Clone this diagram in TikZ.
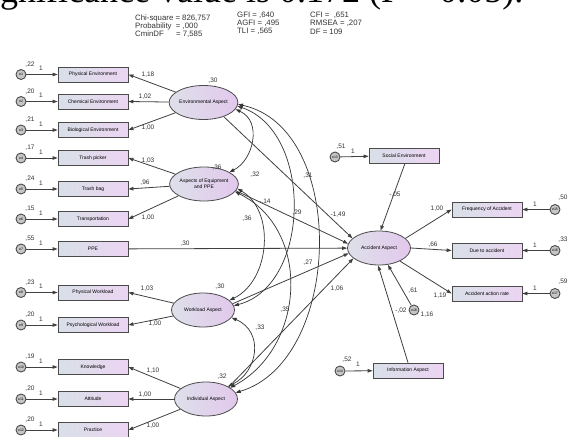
\documentclass[tikz,border=0pt]{standalone}
\usepackage{fontspec}
\setmainfont{Liberation Sans}
\newfontfamily\serifx{Liberation Serif}
\usetikzlibrary{arrows.meta,shapes.geometric}
\definecolor{boxL}{RGB}{216,224,232}
\definecolor{boxR}{RGB}{236,212,242}
\definecolor{latL}{RGB}{222,224,234}
\definecolor{latR}{RGB}{226,200,236}
\definecolor{edge}{RGB}{75,75,75}
\begin{document}
\begin{tikzpicture}[x=1pt,y=-1pt,
  obs/.style={draw=edge, line width=0.8pt, left color=boxL, right color=boxR,
    minimum width=70pt, minimum height=15pt, inner sep=0pt, font=\fontsize{5}{6}\selectfont},
  lat/.style={ellipse, draw=edge, line width=0.8pt, left color=latL, right color=latR,
    minimum width=63pt, minimum height=34pt, inner sep=0pt, align=center,
    font=\fontsize{5}{6}\selectfont},
  err/.style={circle, draw=edge, line width=0.9pt, fill=gray!45, minimum size=10pt,
    inner sep=0pt, font=\fontsize{3.5}{4}\selectfont},
  lbl/.style={font=\fontsize{6.5}{7}\selectfont, inner sep=0pt, text=black!80},
  stat/.style={font=\fontsize{7.8}{8}\selectfont, inner sep=0pt, anchor=west, text=black!80},
  reg/.style={draw=black!75, line width=0.8pt, -{Triangle[length=5pt,width=3.5pt]}},
  cov/.style={draw=black!80, line width=0.7pt,
    {Triangle[length=5pt,width=3.5pt]}-{Triangle[length=5pt,width=3.5pt]}}]
\useasboundingbox (0,0) rectangle (569,436);
\clip (0,0) rectangle (569,436);
\fill[white] (0,0) rectangle (569,436);

% cut-off heading text
\node[anchor=base west, font=\serifx\fontsize{36}{36}\selectfont, inner sep=0pt]
  (head) at (-24,3) {significance value is 0.172 (P > 0.05).};

% fit statistics
\node[stat] (s1) at (135,18) {Chi-square = 826,757};
\node[stat] (s2) at (135,26) {Probability \ = ,000};
\node[stat] (s3) at (135,34) {CminDF \hspace{8pt} = 7,585};
\node[stat] (s4) at (237,15.5) {GFI = ,640};
\node[stat] (s5) at (237,23.5) {AGFI = ,495};
\node[stat] (s6) at (237,31.5) {TLI = ,565};
\node[stat] (s7) at (310,15.5) {CFI = \ ,651};
\node[stat] (s8) at (310,23.5) {RMSEA = ,207};
\node[stat] (s9) at (310,31.5) {DF = 109};

% left indicators with their error terms
\foreach \nm/\yy/\txt/\var/\en in {
  pe/74.5/Physical Environment/{,22}/e1,
  ce/101.5/Chemical Environment/{,20}/e2,
  be/130/Biological Environment/{,21}/e3,
  tp/158/Trash picker/{,17}/e4,
  tb/189/Trash bag/{,24}/e5,
  tr/219/Transportation/{,15}/e6,
  ppe/249/PPE/{,55}/e7,
  pw/292.5/Physical Workload/{,23}/e8,
  psw/325/Psychological Workload/{,20}/e9,
  kn/367/Knowledge/{,19}/e10,
  at/399/Attitude/{,20}/e11,
  pr/430/Practice/{,20}/e12}{
  \node[obs] (\nm) at (93,\yy) {\txt};
  \node[err] (\en) at (21,\yy) {\en};
  \draw[reg] (\en) -- (\nm);
  \node[lbl] (v\en) at (30,\yy-10) {\var};
  \node[lbl] (k\en) at (41,\yy-6) {1};
}

% latent variables
\node[lat] (env) at (203.5,102.5) {Environmental Aspect};
\node[lat] (equ) at (204,184) {Aspects of Equipment\\and PPE};
\node[lat] (wl)  at (203,310) {Workload Aspect};
\node[lat] (ind) at (206,399) {Individual Aspect};
\node[lat] (acc) at (379,248) {Accident Aspect};

\node[lbl] (venv) at (213,81) {,30};
\node[lbl] (vequ) at (217,168) {,36};
\node[lbl] (vwl)  at (220,287) {,30};
\node[lbl] (vind) at (222,377) {,32};

% loadings
\draw[reg] (env) -- (pe.east);
\draw[reg] (env) -- (ce.east);
\draw[reg] (env) -- (be.east);
\draw[reg] (equ) -- (tp.east);
\draw[reg] (equ) -- (tb.east);
\draw[reg] (equ) -- (tr.east);
\draw[reg] (wl) -- (pw.east);
\draw[reg] (wl) -- (psw.east);
\draw[reg] (ind) -- (kn.east);
\draw[reg] (ind) -- (at.east);
\draw[reg] (ind) -- (pr.east);

\node[lbl] at (148,75) {1,18};
\node[lbl] at (145,97) {1,02};
\node[lbl] at (148,128) {1,00};
\node[lbl] at (148,161) {1,03};
\node[lbl] at (145,183) {,96};
\node[lbl] at (148,218) {1,00};
\node[lbl] at (147,289) {1,03};
\node[lbl] at (155,324) {1,00};
\node[lbl] at (153,371) {1,10};
\node[lbl] at (145,395) {1,00};
\node[lbl] at (153,426) {1,00};

% covariances
\draw[cov] (env.-12) .. controls +(27,12) and +(24,-12) .. (equ.25);
\draw[cov] (env.-6) .. controls +(76,26) and +(77,-20) .. (wl.8);
\draw[cov] (env.-3) .. controls +(110,24) and +(107,-32) .. (ind.12);
\draw[cov] (equ.-8) .. controls +(38,22) and +(41,-20) .. (wl.20);
\draw[cov] (equ.-14) .. controls +(77,38) and +(75,-40) .. (ind.25);
\draw[cov] (wl.-15) .. controls +(33,14) and +(30,-14) .. (ind.30);

\node[lbl] at (255,175) {,32};
\node[lbl] at (297,213) {,29};
\node[lbl] at (308,176) {,31};
\node[lbl] at (247,219) {,36};
\node[lbl] at (285,310) {,35};
\node[lbl] at (260,328) {,33};

% structural paths
\draw[reg] (env.-35) -- (acc.160);
\draw[reg] (equ.-12) -- (acc.172);
\draw[reg] (ppe) -- (acc);
\draw[reg] (wl.12) -- (acc.190);
\draw[reg] (ind.28) -- (acc.202);

\node[lbl] at (338,215) {-1,49};
\node[lbl] at (265,202) {-,14};
\node[lbl] at (185,244) {,30};
\node[lbl] at (308,263) {,27};
\node[lbl] at (337,289) {1,06};

% right side
\node[obs] (soc) at (404,155.5) {Social Environment};
\node[obs] (fr)  at (487,209.5) {Frequency of Accident};
\node[obs] (due) at (487,250.5) {Due to accident};
\node[obs] (ar)  at (487,293.5) {Accident action rate};
\node[obs] (inf) at (408,370.5) {Information Aspect};

\node[err] (e13) at (335,157) {e13};
\node[err] (e14) at (340,371) {e14};
\node[err] (e15) at (555,209.5) {e15};
\node[err] (e16) at (555,250.5) {e16};
\node[err] (e17) at (555,293.5) {e17};
\node[err] (e18) at (414,310) {e18};

\draw[reg] (e13) -- (soc);
\draw[reg] (e14) -- (inf);
\draw[reg] (e15) -- (fr);
\draw[reg] (e16) -- (due);
\draw[reg] (e17) -- (ar);
\draw[reg] (e18) -- (acc.-62);
\draw[reg] (soc.south) ++(1,0) coordinate (socb) (socb) -- (acc.85);
\draw[reg] (inf.north) -- (acc.-93);
\draw[reg] (acc.20) -- (fr.west);
\draw[reg] (acc.east) -- (due.west);
\draw[reg] (acc.-32) -- (ar.west);

\node[lbl] at (341,147) {,51};
\node[lbl] at (353,151) {1};
\node[lbl] at (347,360) {,52};
\node[lbl] at (358,364) {1};
\node[lbl] at (563,198) {,50};
\node[lbl] at (535,204) {1};
\node[lbl] at (563,240) {,33};
\node[lbl] at (535,245) {1};
\node[lbl] at (563,282) {,59};
\node[lbl] at (535,288) {1};
\node[lbl] at (395,195) {-,05};
\node[lbl] at (437,209) {1,00};
\node[lbl] at (433,245) {,66};
\node[lbl] at (440,296) {1,19};
\node[lbl] at (413,291) {,61};
\node[lbl] at (427,315) {1,16};
\node[lbl] at (401,311) {-,02};
\end{tikzpicture}
\end{document}
